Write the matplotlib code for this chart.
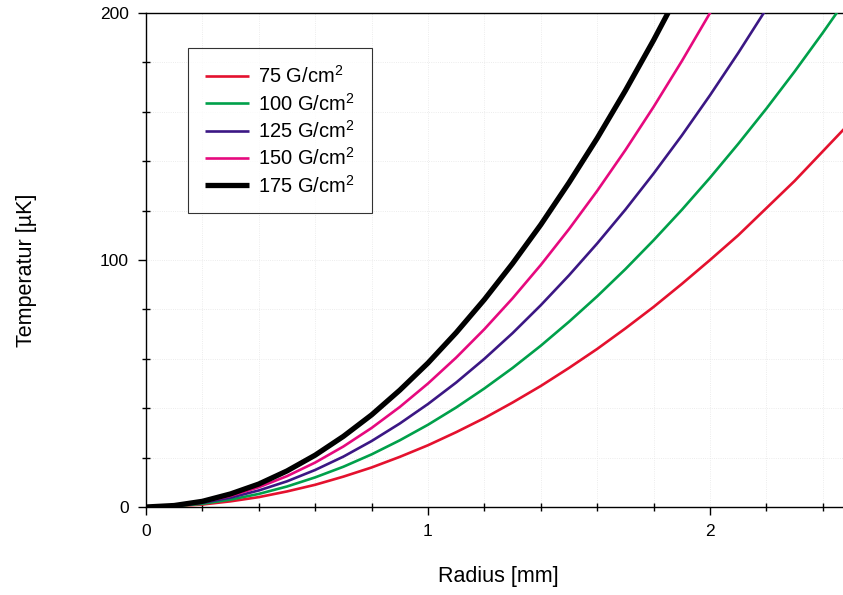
import matplotlib
matplotlib.use("Agg")
import matplotlib.pyplot as plt
from matplotlib.ticker import MultipleLocator

# ----------------------------
# Daten (Schritt 0.1 mm)
# ----------------------------
labels = ["75 G/cm$^2$", "100 G/cm$^2$", "125 G/cm$^2$", "150 G/cm$^2$", "175 G/cm$^2$"]

t_75 = [0, 0.3, 1, 2.3, 4, 6.3, 9, 12.3, 16, 20.3, 25, 30.3, 36, 42.3, 49, 56.3,
        64, 72.3, 81, 90.3, 100, 110, 121, 132, 144, 156]
t_100 = [0, 0.3, 1.3, 3, 5.3, 8.3, 12, 16.3, 21.3, 27, 33.3, 40.3, 48, 56.3, 65.3, 75,
         85.3, 96.3, 108, 120.3, 133.3, 147, 161.3, 176.3, 192, 208.3]
t_125 = [0, 0.4, 1.7, 3.8, 6.7, 10.4, 15, 20.4, 26.7, 33.8, 41.7, 50.4, 60, 70.4, 81.7,
         93.8, 106.7, 120.4, 135, 150.4, 166.7, 183.8, 201.7, 220.4]
t_150 = [0, 0.5, 2, 4.5, 8, 12.5, 18, 24.5, 32, 40.5, 50, 60.5, 72, 84.5, 98, 112.5,
         128, 144.5, 162, 180.5, 200, 220.5]
t_175 = [0, 0.6, 2.3, 5.3, 9.3, 14.6, 21, 28.6, 37.3, 47.3, 58.3, 70.6, 84, 98.6, 114.3,
         131.3, 149.3, 168.6, 189, 210.6]

series = [t_75, t_100, t_125, t_150, t_175]
colors = ["#e4112e", "#00a04a", "#3b1784", "#e6097e", "#000000"]
widths = [1.9, 1.9, 1.9, 1.9, 3.8]

plt.rcParams["font.family"] = ["Liberation Sans", "DejaVu Sans"]
plt.rcParams["mathtext.fontset"] = "custom"
plt.rcParams["mathtext.rm"] = "Liberation Sans"

fig = plt.figure(figsize=(8.43, 5.95), dpi=100)
ax = fig.add_axes([146 / 843, 88 / 595, (851 - 146) / 843, 494 / 595])

for vals, lab, col, lw in zip(series, labels, colors, widths):
    r = [i / 10 for i in range(len(vals))]
    ax.plot(r, vals, color=col, lw=lw, label=lab, solid_capstyle="butt",
            solid_joinstyle="round", zorder=3)

ax.set_xlim(0, 2.5)
ax.set_ylim(0, 200)

# Achsen / Ticks
ax.spines["right"].set_visible(False)
for s in ["left", "top", "bottom"]:
    ax.spines[s].set_linewidth(1.0)
ax.xaxis.set_major_locator(MultipleLocator(1))
ax.xaxis.set_minor_locator(MultipleLocator(0.2))
ax.yaxis.set_major_locator(MultipleLocator(100))
ax.yaxis.set_minor_locator(MultipleLocator(20))
ax.tick_params(which="major", direction="out", length=5.5, width=1.0, labelsize=12.5, pad=7)
ax.tick_params(which="minor", direction="inout", length=5.5, width=1.0)
ax.tick_params(top=False, right=False, which="both")

ax.grid(True, which="both", color="#e6e6e6", linestyle=":", linewidth=0.6, zorder=0)

ax.set_xlabel("Radius [mm]", fontsize=15.5)
ax.set_ylabel("Temperatur [µK]", fontsize=15.5)
ax.xaxis.set_label_coords((498 - 146) / 705, -(566 - 507) / 494)
ax.yaxis.set_label_coords(-(146 - 37) / 705, (507 - 270) / 494)

leg = ax.legend(loc="upper left", bbox_to_anchor=(188 / 843, 1 - 48 / 595),
                bbox_transform=fig.transFigure, borderaxespad=0, fontsize=14.5,
                fancybox=False, frameon=True, handlelength=2.2, handletextpad=0.45,
                labelspacing=0.27, borderpad=0.85)
leg.get_frame().set_edgecolor("black")
leg.get_frame().set_linewidth(0.8)

fig.savefig("out.png", dpi=100)
